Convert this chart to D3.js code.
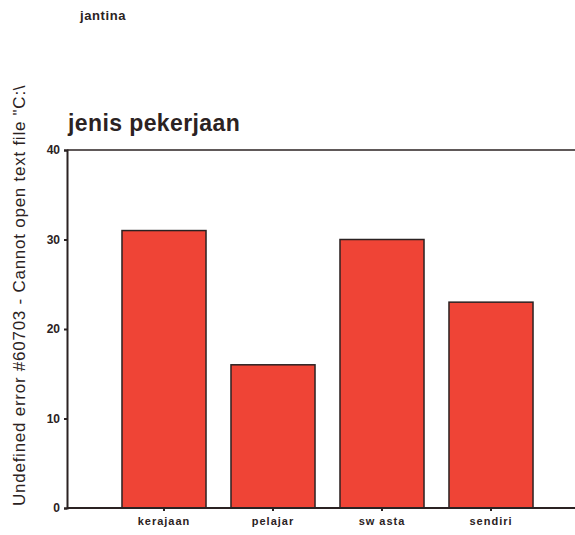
<!DOCTYPE html>
<html>
<head>
<meta charset="utf-8">
<script src="https://cdn.jsdelivr.net/npm/d3@7"></script>
<style>
  html, body { margin: 0; padding: 0; background: #fff; }
  svg { display: block; font-family: Arial, "Liberation Sans", sans-serif; }
</style>
</head>
<body>
<svg id="chart" width="575" height="535"></svg>
<script>
// Count of respondents per occupation type
const categories = ["kerajaan", "pelajar", "sw asta", "sendiri"];
const counts = [31, 16, 30, 23];
const yTicks = [0, 10, 20, 30, 40];

const svg = d3.select("#chart");
const ink = "#2b2222";
const font = "Arial, 'Liberation Sans', sans-serif";

const plot = { left: 67, right: 575, top: 150, bottom: 508 };

const x = d3.scaleBand()
  .domain(categories)
  .range([109.5, 545.5])
  .paddingInner(0.229)
  .paddingOuter(0.1145);

const y = d3.scaleLinear()
  .domain([0, 40])
  .range([plot.bottom, plot.top]);

// page header
svg.append("text")
  .attr("x", 80).attr("y", 20)
  .attr("font-size", 13).attr("font-weight", "bold")
  .attr("letter-spacing", 0.6)
  .attr("fill", ink)
  .text("jantina");

// chart title
svg.append("text")
  .attr("x", 68).attr("y", 131)
  .attr("font-size", 23).attr("font-weight", "bold")
  .attr("letter-spacing", 0.4)
  .attr("fill", ink)
  .text("jenis pekerjaan");

// frame top line
svg.append("line")
  .attr("x1", plot.left).attr("x2", plot.right)
  .attr("y1", plot.top).attr("y2", plot.top)
  .attr("stroke", ink).attr("stroke-width", 1.5);

// bars
svg.append("g").selectAll("rect")
  .data(categories)
  .join("rect")
  .attr("x", d => x(d))
  .attr("width", x.bandwidth())
  .attr("y", (d, i) => y(counts[i]))
  .attr("height", (d, i) => y(0) - y(counts[i]))
  .attr("fill", "#ef4436")
  .attr("stroke", ink)
  .attr("stroke-width", 1.5);

// y axis
const yAxis = svg.append("g")
  .attr("transform", `translate(${plot.left},0)`)
  .call(d3.axisLeft(y).tickValues(yTicks).tickSize(3).tickPadding(4));
yAxis.select(".domain").attr("stroke", ink).attr("stroke-width", 2);
yAxis.selectAll(".tick line").attr("stroke", ink).attr("stroke-width", 2);
yAxis.selectAll(".tick text")
  .attr("fill", ink)
  .attr("font-size", 12)
  .attr("font-weight", "bold")
  .attr("font-family", font);

// x axis
const xAxis = svg.append("g")
  .attr("transform", `translate(0,${plot.bottom})`)
  .call(d3.axisBottom(x).tickSize(3).tickPadding(6).tickSizeOuter(0));
xAxis.select(".domain")
  .attr("d", `M${plot.left},0H${plot.right}`)
  .attr("stroke", ink).attr("stroke-width", 2);
xAxis.selectAll(".tick line").attr("stroke", ink).attr("stroke-width", 2);
xAxis.selectAll(".tick text")
  .attr("fill", ink)
  .attr("font-size", 11)
  .attr("font-weight", "bold")
  .attr("letter-spacing", 1)
  .attr("font-family", font);

// y axis title
svg.append("text")
  .attr("transform", "translate(25,506) rotate(-90)")
  .attr("font-size", 17)
  .attr("letter-spacing", 0.75)
  .attr("fill", ink)
  .text("Undefined error #60703 - Cannot open text file \"C:\\");
</script>
</body>
</html>
